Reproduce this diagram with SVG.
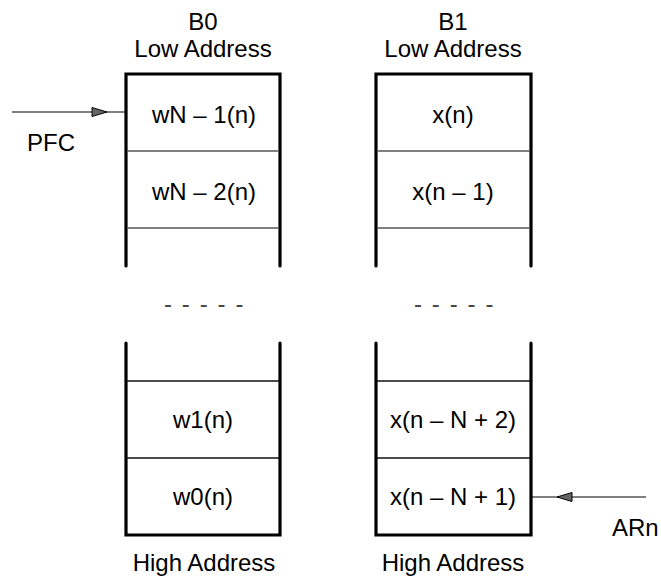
<svg xmlns="http://www.w3.org/2000/svg" width="661" height="577" viewBox="0 0 661 577">
<style>
text{font-family:"Liberation Sans",Arial,sans-serif;font-size:24px;fill:#000}
.c{text-anchor:middle}
.frame{fill:none;stroke:#000;stroke-width:3.2;stroke-linecap:round;stroke-linejoin:miter}
.div{stroke:#555;stroke-width:1.3}
.divk{stroke:#111;stroke-width:1.3}
.dash{font-size:24px;fill:#444;letter-spacing:1.6px}
.conn{stroke:#000;stroke-width:1.2;fill:none}
.head{fill:#666;stroke:#000;stroke-width:1}
</style>
<rect width="661" height="577" fill="#fff"/>
<g id="B0-header">
<text class="c" x="203" y="30">B0</text>
<text class="c" x="203" y="57">Low Address</text>
</g>
<g id="B1-header">
<text class="c" x="453" y="30">B1</text>
<text class="c" x="453" y="57">Low Address</text>
</g>
<g id="B0-top">
<path class="frame" d="M126,266 V74 H280 V266"/>
<line class="div" x1="127" y1="151" x2="279" y2="151"/>
<line class="div" x1="127" y1="228" x2="279" y2="228"/>
<text class="c" x="204" y="123">wN – 1(n)</text>
<text class="c" x="204" y="200">wN – 2(n)</text>
</g>
<g id="B1-top">
<path class="frame" d="M376,266 V74 H531 V266"/>
<line class="div" x1="377" y1="151" x2="530" y2="151"/>
<line class="div" x1="377" y1="228" x2="530" y2="228"/>
<text class="c" x="453" y="123">x(n)</text>
<text class="c" x="453" y="200">x(n – 1)</text>
</g>
<g id="B0-gap"><text class="dash" x="164" y="312">- - - - -</text></g>
<g id="B1-gap"><text class="dash" x="414" y="312">- - - - -</text></g>
<g id="B0-bottom">
<path class="frame" d="M126,343 V535 H280 V343"/>
<line class="divk" x1="127" y1="381" x2="279" y2="381"/>
<line class="divk" x1="127" y1="458" x2="279" y2="458"/>
<text class="c" x="203" y="428">w1(n)</text>
<text class="c" x="203" y="505">w0(n)</text>
</g>
<g id="B1-bottom">
<path class="frame" d="M376,343 V535 H531 V343"/>
<line class="divk" x1="377" y1="381" x2="530" y2="381"/>
<line class="divk" x1="377" y1="458" x2="530" y2="458"/>
<text class="c" x="453" y="428">x(n – N + 2)</text>
<text class="c" x="453" y="505">x(n – N + 1)</text>
</g>
<g id="B0-footer"><text class="c" x="204" y="571">High Address</text></g>
<g id="B1-footer"><text class="c" x="453" y="571">High Address</text></g>
<g id="PFC"><text x="27" y="151">PFC</text></g>
<g id="ARn"><text x="612" y="536">ARn</text></g>
<g id="connectors">
<line class="conn" x1="12" y1="112" x2="126" y2="112"/>
<polygon class="head" points="92,107.5 107,112 92,116.5"/>
<line class="conn" x1="531" y1="497" x2="646" y2="497" stroke="#444"/>
<polygon class="head" points="572,492.5 557,497 572,501.5"/>
</g>
</svg>
